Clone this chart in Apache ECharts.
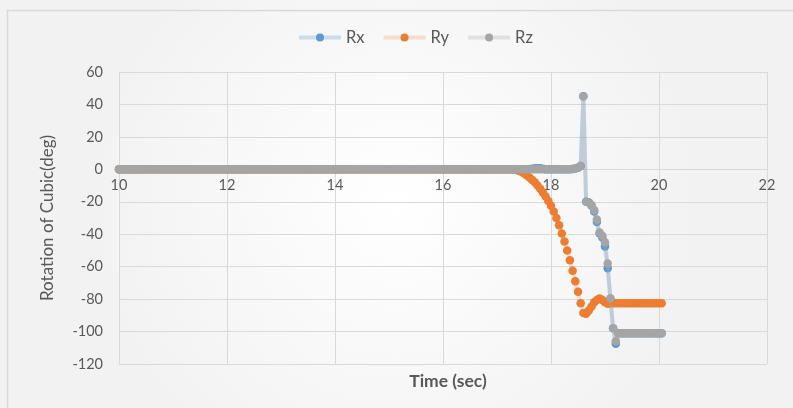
<!DOCTYPE html>
<html>
<head>
<meta charset="utf-8">
<script src="https://cdn.jsdelivr.net/npm/echarts@6/dist/echarts.min.js"></script>
<style>html,body{margin:0;padding:0;background:#fff}#c{width:793px;height:408px}</style>
</head>
<body>
<div id="c"></div>
<script>
// Sampling grid (sec)
const tStart = 10, tStep = 0.05, nPoints = 202; // 10.00 .. 20.05
const flatCount = 146; // samples 10.00 .. 17.25, all three angles read as 0

const rxActive = [0,0,0,0,0,0,0,0.3,0.7,0.7,0.7,0.3,0,0,0,0,0,0,0,0,0,0,
  0.2,0.5,1,2,45,-20,-20.5,-22.5,-26,-32.5,-39.5,-42,-47.5,-61,-80,-98,-107.5,
  -101,-101,-101,-101,-101,-101,-101,-101,-101,-101,-101,-101,-101,-101,-101,-101,-101];
const ryActive = [0,-0.3,-0.8,-1.5,-2.5,-3.6,-5,-6.5,-8,-10,-12,-14.3,-16.8,-19.5,
  -22.5,-26,-30,-34.5,-39.5,-44.5,-50,-56,-62.5,-69,-75.5,-82.5,-88.5,-89,-87,-84.5,-82,-80.5,-79.7,-80.5,-82,-82.8,
  -82.6,-82.6,-82.6,-82.6,-82.6,-82.6,-82.6,-82.6,-82.6,-82.6,-82.6,-82.6,-82.6,-82.6,-82.6,-82.6,-82.6,-82.6,-82.6,-82.6];
const rzActive = [0,0,0,0,0,0,0,0,0,0,0,0,0,0,0,0,0,0,0,0,0,0,
  0.2,0.5,1,2,45,-20,-20.5,-22,-25,-31,-39,-41,-45,-58,-79.5,-98,-106,
  -101,-101,-101,-101,-101,-101,-101,-101,-101,-101,-101,-101,-101,-101,-101,-101,-101];

const yTicks = {min: -120, max: 60, interval: 20};
const xTicks = {min: 10, max: 22, interval: 2};
const seriesNames = ['Rx', 'Ry', 'Rz'];

const time = [];
for (let i = 0; i < nPoints; i++) time.push(+(tStart + i * tStep).toFixed(2));
const flat = new Array(flatCount).fill(0);
const values = [flat.concat(rxActive), flat.concat(ryActive), flat.concat(rzActive)];

const markerColors = ['#5B9BD5', '#ED7D31', '#A5A5A5'];
const lineColors = ['rgba(91,155,213,0.28)', 'rgba(237,125,49,0.22)', 'rgba(165,165,165,0.28)'];
const FONT = 'Lato, "Open Sans", sans-serif';

// grid geometry (pixels)
const gridTop = 72, gridBottom = 44, chartH = 408;
const plotH = chartH - gridTop - gridBottom;
const zeroFromBottom = plotH * (0 - yTicks.min) / (yTicks.max - yTicks.min);

const chart = echarts.init(document.getElementById('c'), null, {renderer: 'canvas'});
chart.setOption({
  animation: false,
  backgroundColor: {
    type: 'radial', x: 0.5, y: 0.5, r: 0.75,
    colorStops: [{offset: 0, color: '#ffffff'}, {offset: 1, color: '#f2f2f2'}]
  },
  graphic: [{
    type: 'rect', left: 5, top: 8, shape: {width: 800, height: 410},
    style: {fill: 'none', stroke: '#d9d9d9', lineWidth: 1.5}, silent: true, z: -1
  }],
  title: {
    text: 'Time (sec)', left: 443, top: 367, textAlign: 'center',
    textStyle: {fontFamily: FONT, fontSize: 17.5, fontWeight: 'bold', color: '#595959'}
  },
  legend: {
    top: 24, left: 292, itemWidth: 42, itemHeight: 10, itemGap: 17,
    lineStyle: {width: 4},
    textStyle: {fontFamily: FONT, fontSize: 16.5, color: '#595959'},
    data: seriesNames
  },
  grid: {left: 119, right: 26, top: gridTop, bottom: gridBottom, containLabel: false},
  xAxis: {
    type: 'value', min: xTicks.min, max: xTicks.max, interval: xTicks.interval,
    offset: -zeroFromBottom,
    axisLine: {onZero: false, lineStyle: {color: '#d9d9d9'}},
    axisTick: {show: false},
    axisLabel: {fontFamily: FONT, fontSize: 14.5, color: '#595959', margin: 8},
    splitLine: {show: true, lineStyle: {color: '#d9d9d9', width: 1}}
  },
  yAxis: {
    type: 'value', min: yTicks.min, max: yTicks.max, interval: yTicks.interval,
    name: 'Rotation of Cubic(deg)', nameLocation: 'middle', nameGap: 63, nameRotate: 90,
    nameTextStyle: {fontFamily: FONT, fontSize: 17, color: '#595959'},
    axisLine: {show: false}, axisTick: {show: false},
    axisLabel: {fontFamily: FONT, fontSize: 14.5, color: '#595959', margin: 16},
    splitLine: {show: true, lineStyle: {color: '#d9d9d9', width: 1}}
  },
  series: seriesNames.map((name, k) => ({
    name: name, type: 'line',
    data: time.map((t, i) => [t, values[k][i]]),
    symbol: 'circle', symbolSize: 8.5, showSymbol: true,
    itemStyle: {color: markerColors[k]},
    lineStyle: {color: lineColors[k], width: 4},
    z: 2 + k
  }))
});
</script>
</body>
</html>
